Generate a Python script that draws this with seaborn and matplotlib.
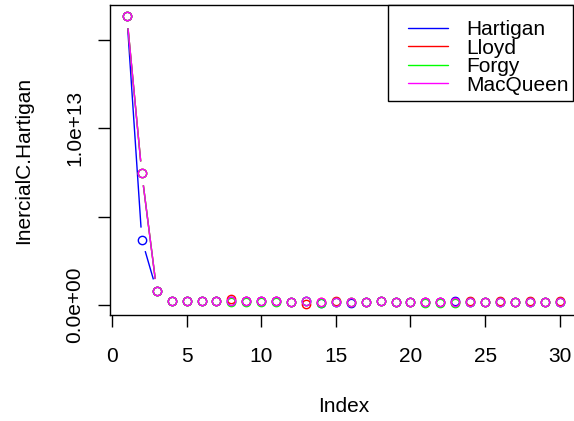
import matplotlib
matplotlib.use("Agg")
import numpy as np
import pandas as pd
import seaborn as sns
import matplotlib.pyplot as plt
from matplotlib.lines import Line2D
from matplotlib.patches import Rectangle
from matplotlib.collections import LineCollection
from matplotlib.legend_handler import HandlerLine2D

# Within-cluster inertia per run index, for four k-means algorithms
index = list(range(1, 31))
scale = 1e12
hartigan = [16.30, 3.70, 0.80, 0.26, 0.26, 0.26, 0.26, 0.24, 0.24, 0.23,
            0.22, 0.18, 0.22, 0.14, 0.15, 0.12, 0.15, 0.21, 0.17, 0.17,
            0.17, 0.17, 0.25, 0.19, 0.16, 0.19, 0.16, 0.19, 0.16, 0.19]
lloyd = [16.30, 7.44, 0.80, 0.26, 0.26, 0.26, 0.26, 0.33, 0.24, 0.23,
         0.22, 0.18, 0.09, 0.18, 0.25, 0.17, 0.20, 0.21, 0.17, 0.17,
         0.17, 0.17, 0.20, 0.25, 0.16, 0.25, 0.16, 0.25, 0.16, 0.25]
forgy = [16.30, 7.44, 0.80, 0.26, 0.26, 0.26, 0.26, 0.16, 0.18, 0.17,
         0.16, 0.18, 0.22, 0.13, 0.20, 0.17, 0.20, 0.26, 0.17, 0.17,
         0.13, 0.13, 0.14, 0.19, 0.16, 0.19, 0.16, 0.19, 0.16, 0.19]
macqueen = [16.30, 7.44, 0.80, 0.26, 0.26, 0.26, 0.26, 0.24, 0.24, 0.23,
            0.22, 0.18, 0.22, 0.18, 0.20, 0.17, 0.20, 0.21, 0.17, 0.17,
            0.17, 0.17, 0.20, 0.19, 0.16, 0.19, 0.16, 0.19, 0.16, 0.19]

methods = ["Hartigan", "Lloyd", "Forgy", "MacQueen"]
colors = ["#0000FF", "#FF0000", "#00FF00", "#FF00FF"]
series = [hartigan, lloyd, forgy, macqueen]

xticks = [0, 5, 10, 15, 20, 25, 30]
yticks = [0, 5e12, 1e13, 1.5e13]
ytick_labels = ["0.0e+00", "", "1.0e+13", ""]

df = pd.DataFrame({
    "Index": np.tile(index, len(methods)),
    "value": np.concatenate([np.array(s) * scale for s in series]),
    "method": np.repeat(methods, len(index)),
})

sns.set_theme(style="white")
plt.rcParams["font.family"] = ["Liberation Sans", "DejaVu Sans"]
plt.rcParams["text.color"] = "black"
plt.rcParams["axes.labelcolor"] = "black"
plt.rcParams["xtick.color"] = "black"
plt.rcParams["ytick.color"] = "black"

W, H = 574, 421
fig = plt.figure(figsize=(W / 100, H / 100), dpi=100)
left, right, top, bottom = 109.6, 577.0, 5.0, 315.0
ax = fig.add_axes([left / W, 1 - bottom / H, (right - left) / W, (bottom - top) / H])

# R-style 4% padding around the data range
xmin, xmax = min(index), max(index)
vmin, vmax = df["value"].min(), df["value"].max()
xlim = (xmin - 0.04 * (xmax - xmin), xmax + 0.04 * (xmax - xmin))
ylim = (vmin - 0.04 * (vmax - vmin), vmax + 0.04 * (vmax - vmin))
ax.set_xlim(*xlim)
ax.set_ylim(*ylim)

# connecting segments with a gap around each point (type = "b")
gap = 12.0
for name, col in zip(methods, colors):
    sub = df[df["method"] == name]
    pts = ax.transData.transform(np.column_stack([sub["Index"], sub["value"]]))
    inv = ax.transData.inverted()
    segs = []
    for p0, p1 in zip(pts[:-1], pts[1:]):
        d = np.hypot(*(p1 - p0))
        if d > 2 * gap:
            u = (p1 - p0) / d
            segs.append(inv.transform(np.array([p0 + u * gap, p1 - u * gap])))
    if segs:
        ax.add_collection(LineCollection(segs, colors=col, linewidths=1.0, zorder=2))

for name, col in zip(methods, colors):
    sub = df[df["method"] == name]
    sns.lineplot(data=sub, x="Index", y="value", ax=ax, linestyle="",
                 marker="o", markersize=6.0, markerfacecolor="none",
                 markeredgecolor=col, markeredgewidth=1.0, color=col,
                 zorder=3, legend=False)

ax.set_xlim(*xlim)
ax.set_ylim(*ylim)

fs = 15
ax.set_xticks(xticks)
ax.set_xticklabels([str(t) for t in xticks], fontsize=fs)
ax.set_yticks(yticks)
ax.set_yticklabels(ytick_labels, fontsize=fs, rotation=90, va="center")
ax.tick_params(axis="both", direction="out", length=8.5, width=1.0,
               bottom=True, left=True, color="black")
ax.tick_params(axis="x", pad=14.5)
ax.tick_params(axis="y", pad=10)
ax.set_xlabel("Index", fontsize=fs, labelpad=22.5)
ax.set_ylabel("InercialC.Hartigan", fontsize=fs, labelpad=23)

for sp in ax.spines.values():
    sp.set_visible(True)
    sp.set_color("black")
    sp.set_linewidth(1.0)

# legend box in the top-right corner
lx0, lx1, ly0, ly1 = 388, 573, 5, 101
fig.add_artist(Rectangle((lx0 / W, 1 - ly1 / H), (lx1 - lx0) / W, (ly1 - ly0) / H,
                         transform=fig.transFigure, facecolor="white",
                         edgecolor="black", linewidth=1.0, zorder=5))
handles = [Line2D([], [], color=c, lw=1.0) for c in colors]
leg = fig.legend(handles, methods, loc="upper left",
                 bbox_to_anchor=(397 / W, 1 - 20 / H), bbox_transform=fig.transFigure,
                 borderaxespad=0, frameon=False, borderpad=0,
                 handlelength=2.45, handletextpad=0.88,
                 labelspacing=-0.02, fontsize=fs,
                 handler_map={Line2D: HandlerLine2D(xpad=0.53)})
leg.set_zorder(6)

fig.savefig("out.png", dpi=100, facecolor="white")
